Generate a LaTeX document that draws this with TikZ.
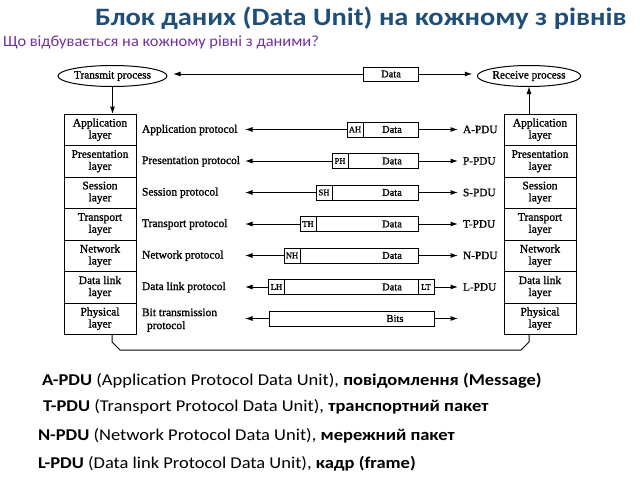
\documentclass[tikz,border=0pt]{standalone}
\usepackage{fontspec}
\setmainfont{Liberation Serif}[BoldFont={Liberation Serif},BoldFeatures={FakeBold=1.2}]
\newfontfamily\calfont{Carlito}
\usetikzlibrary{shapes.geometric,arrows.meta}
\definecolor{titleblue}{HTML}{1F4E79}
\definecolor{subpurple}{HTML}{7030A0}
\begin{document}
\begin{tikzpicture}[x=1pt,y=-1pt,
  every node/.style={inner sep=0pt,outer sep=0pt},
  proc/.style={ellipse,draw,line width=1pt,minimum width=96,minimum height=21,font=\bfseries\fontsize{11.3}{12}\selectfont},
  layerbox/.style={rectangle,draw,line width=0.9pt,minimum width=72,minimum height=31.5,align=center,
    font=\bfseries\fontsize{11.5}{12}\selectfont},
  pdubox/.style={rectangle,draw,line width=0.8pt,minimum height=15,font=\bfseries\fontsize{10.5}{12}\selectfont},
  hdr/.style={pdubox,minimum width=16,font=\bfseries\fontsize{8.5}{9}\selectfont},
  protlabel/.style={anchor=west,align=left,font=\bfseries\fontsize{11.5}{13}\selectfont},
  pdulabel/.style={anchor=west,font=\bfseries\fontsize{11.3}{13}\selectfont},
  datatxt/.style={font=\bfseries\fontsize{10.5}{12}\selectfont},
  conn/.style={line width=1pt},
  arr/.style={line width=1pt,-{Latex[length=7.5pt,width=5pt]}},
  legend/.style={anchor=west,font=\calfont\fontsize{16.5}{19}\selectfont}
]
\useasboundingbox (0,0) rectangle (640,480);

% headings
\node[anchor=west,text=titleblue,font=\calfont\bfseries\fontsize{25}{30}\selectfont] (title) at (95,18)
  {\scalebox{1.135}[1]{Блок даних (Data Unit) на кожному з рівнів}};
\node[anchor=west,text=subpurple,font=\calfont\fontsize{15.5}{18}\selectfont] (subtitle) at (3,42)
  {\scalebox{1.06}[1]{Що відбувається на кожному рівні з даними?}};

% end processes
\node[proc] (tx) at (112.5,76) {Transmit process};
\node[proc] (rx) at (529,76) {Receive process};
\node[pdubox,minimum width=55,minimum height=14] (topdata) at (391,74) {Data};
\draw[arr] (topdata.west) -- ([xshift=6pt]tx.east |- topdata.west);
\draw[arr] (topdata.east) -- ([xshift=-5pt]rx.west |- topdata.east);

% layer stacks
\foreach \t [count=\i] in {Application,Presentation,Session,Transport,Network,Data link,Physical}{
  \node[layerbox] (L\i) at (100,{114+15.75+31.5*(\i-1)}) {\t\\layer};
  \node[layerbox] (R\i) at (540,{114+15.75+31.5*(\i-1)}) {\t\\layer};
}
\draw[arr] (tx.south) -- (tx.south |- L1.north);
\draw[arr] (rx.south |- R1.north) -- (rx.south);

% physical medium link
\coordinate (b1) at (112,342);
\coordinate (b2) at (120,350);
\coordinate (b3) at (521,350);
\coordinate (b4) at (529,342);
\draw[conn] (b1 |- L7.south) -- (b1) -- (b2) -- (b3) -- (b4) -- (b4 |- R7.south);

% protocol labels
\node[protlabel] (p1) at (142,130) {Application protocol};
\node[protlabel] (p2) at (142,161.25) {Presentation protocol};
\node[protlabel] (p3) at (142,192.75) {Session protocol};
\node[protlabel] (p4) at (142,224.25) {Transport protocol};
\node[protlabel] (p5) at (142,255.75) {Network protocol};
\node[protlabel] (p6) at (142,287.25) {Data link protocol};
\node[protlabel] (p7) at (142,320) {Bit transmission\\\hspace*{5pt}protocol};
\coordinate (tipx) at (245,0);

% protocol data units
\node[hdr] (h1) at (355,129.5) {AH};
\node[pdubox,minimum width=55] (d1) at (390.5,129.5) {};
\node[hdr] (h2) at (340,161) {PH};
\node[pdubox,minimum width=70] (d2) at (383,161) {};
\node[hdr] (h3) at (324,192.5) {SH};
\node[pdubox,minimum width=86] (d3) at (375,192.5) {};
\node[hdr] (h4) at (308,224) {TH};
\node[pdubox,minimum width=102] (d4) at (367,224) {};
\node[hdr] (h5) at (292,255.5) {NH};
\node[pdubox,minimum width=118] (d5) at (359,255.5) {};
\node[hdr] (h6) at (276.5,287) {LH};
\node[pdubox,minimum width=134] (d6) at (351,287) {};
\node[hdr] (t6) at (426,287) {LT};
\node[pdubox,minimum width=165] (d7) at (351.5,318.5) {};

\foreach \i in {1,...,6}{
  \node[datatxt] (dt\i) at (392, 0 |- d\i.center) {Data};
}
\node[datatxt] (dt7) at (395, 0 |- d7.center) {Bits};

\foreach \i in {1,...,6}{
  \draw[arr] (h\i.west) -- (tipx |- h\i.west);
}
\draw[arr] (d7.west) -- (tipx |- d7.west);

\foreach \i/\s/\l in {1/d1/A,2/d2/P,3/d3/S,4/d4/T,5/d5/N,6/t6/L}{
  \coordinate (q\i) at (458,0 |- \s.east);
  \draw[arr] (\s.east) -- (q\i);
  \node[pdulabel] (u\i) at (463,0 |- \s.east) {\l-PDU};
}
\coordinate (q7) at (458,0 |- d7.east);
\draw[arr] (d7.east) -- (q7);

% legend
\node[legend] (g1) at (42,381) {\scalebox{1.12}[1]{\textbf{A-PDU} (Application Protocol Data Unit), \textbf{повідомлення (Message)}}};
\node[legend] (g2) at (43,407) {\scalebox{1.12}[1]{\textbf{T-PDU} (Transport Protocol Data Unit), \textbf{транспортний пакет}}};
\node[legend] (g3) at (38,436) {\scalebox{1.12}[1]{\textbf{N-PDU} (Network Protocol Data Unit), \textbf{мережний пакет}}};
\node[legend] (g4) at (38,464) {\scalebox{1.12}[1]{\textbf{L-PDU} (Data link Protocol Data Unit), \textbf{кадр (frame)}}};
\end{tikzpicture}
\end{document}
